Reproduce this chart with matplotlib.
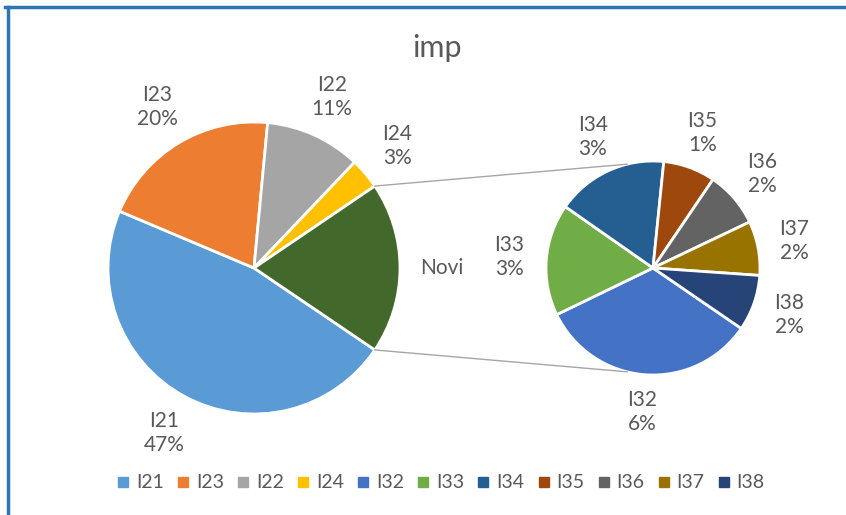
import numpy as np
import matplotlib.pyplot as plt
from matplotlib.lines import Line2D

plt.rcParams['font.family'] = ['Lato', 'DejaVu Sans']

# main pie (last slice "Novi" is split into the secondary pie)
main_labels = ['I21', 'I23', 'I22', 'I24']
main_values = [46.8, 20.1, 10.6, 3.4]
main_colors = ['#5B9BD5', '#ED7D31', '#A5A5A5', '#FFC000']
novi_color = '#43682B'

sub_labels = ['I32', 'I33', 'I34', 'I35', 'I36', 'I37', 'I38']
sub_values = [6.3, 3.2, 3.2, 1.49, 1.6, 1.55, 1.6]
sub_colors = ['#4472C4', '#70AD47', '#255E91', '#9E480E', '#636363', '#997300', '#264478']

text_col = '#595959'
W, H = 846, 515

fig = plt.figure(figsize=(W / 100, H / 100), dpi=100)
ax = fig.add_axes([0, 0, 1, 1])

total = sum(main_values) + sum(sub_values)
novi = sum(sub_values)
vals1 = main_values + [novi]
cols1 = main_colors + [novi_color]
names1 = main_labels + ['Novi']

c1, r1 = (254, H - 268), 146
c2, r2 = (653, H - 268), 107

novi_ang = novi / total * 360
start1 = -novi_ang / 2
ax.pie(vals1, colors=cols1, startangle=start1, counterclock=False, center=c1, radius=r1,
       wedgeprops=dict(edgecolor='white', linewidth=2), frame=True)
start2 = -34.4
ax.pie(sub_values, colors=sub_colors, startangle=start2, counterclock=False, center=c2, radius=r2,
       wedgeprops=dict(edgecolor='white', linewidth=2), frame=True)
ax.set_xlim(0, W)
ax.set_ylim(0, H)
ax.set_aspect('equal')
ax.axis('off')

def put_labels(vals, names, center, r, start, off, show_pct):
    a = start
    s = sum(vals)
    for v, n, p in zip(vals, names, show_pct):
        span = v / s * 360
        mid = np.deg2rad(a - span / 2)
        a -= span
        x = center[0] + (r + off) * np.cos(mid)
        y = center[1] + (r + off) * np.sin(mid)
        txt = n if not p else f'{n}\n{round(v / total * 100):.0f}%'
        ax.text(x, y, txt, ha='center', va='center', fontsize=15, color=text_col, linespacing=1.25)

put_labels(vals1, names1, c1, r1, start1, 42, [True] * 4 + [False])
put_labels(sub_values, sub_labels, c2, r2, start2, 37, [True] * 7)

# connector lines
for sgn in (1, -1):
    a1 = np.deg2rad(sgn * novi_ang / 2)
    a2 = np.deg2rad(sgn * 104)
    ax.plot([c1[0] + r1 * np.cos(a1), c2[0] + r2 * np.cos(a2)],
            [c1[1] + r1 * np.sin(a1), c2[1] + r2 * np.sin(a2)],
            color='#A6A6A6', lw=1)

ax.text(437, H - 48, 'imp', ha='center', va='center', fontsize=22, color=text_col)

handles = [Line2D([], [], marker='s', ls='none', ms=7, color=c)
           for c in main_colors + sub_colors]
fig.legend(handles, main_labels + sub_labels, loc='center',
           bbox_to_anchor=(0.5 + 18 / W, 1 - 483 / H),
           ncol=11, frameon=False, fontsize=14, labelcolor=text_col,
           handlelength=0.6, handletextpad=0.35, columnspacing=0.7)

# screenshot frame
fig.add_artist(Line2D([5 / W, 1], [1 - 7 / H, 1 - 7 / H], color='#2E75B6', lw=2.5))
fig.add_artist(Line2D([8 / W, 8 / W], [0, 1 - 7 / H], color='#2E75B6', lw=2.5))

fig.savefig('out.png', dpi=100)
